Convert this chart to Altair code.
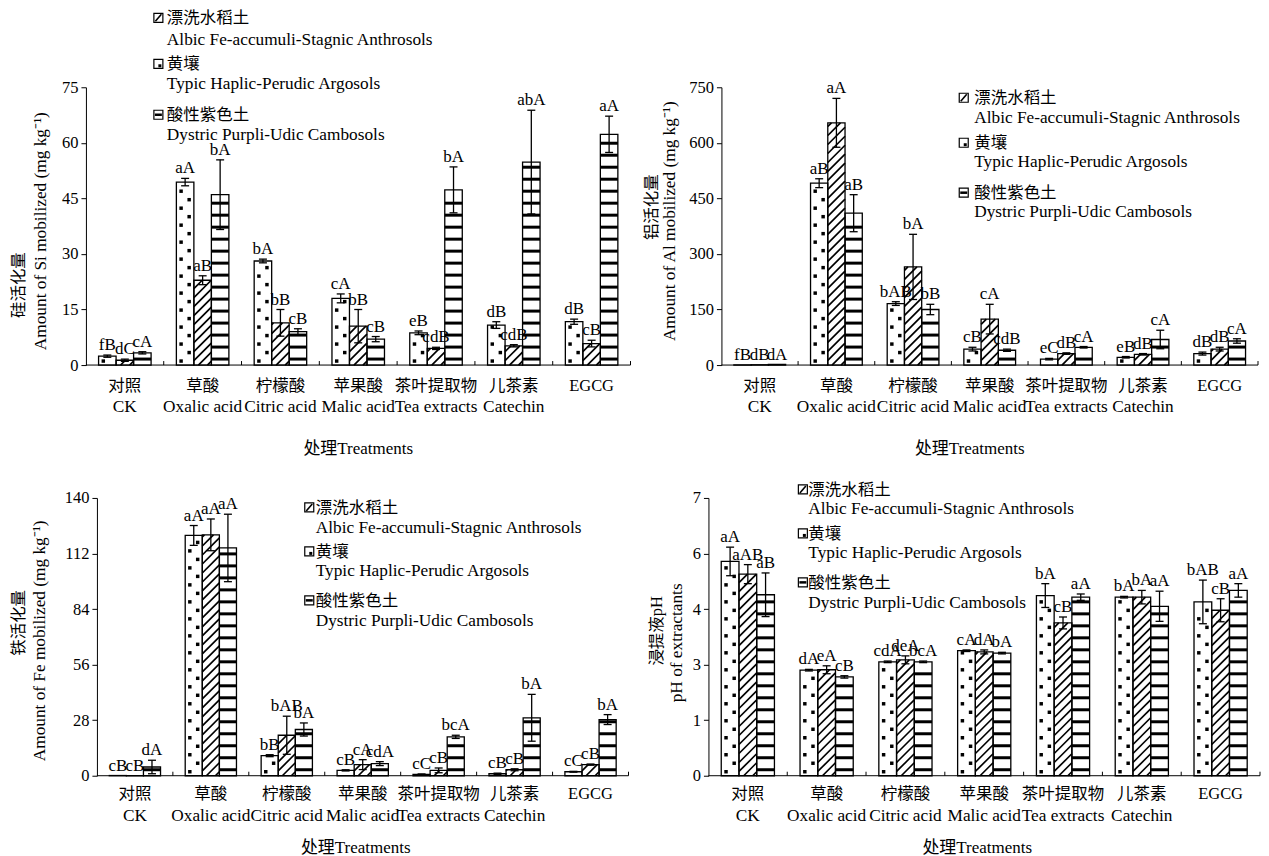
import altair as alt
import pandas as pd

FONT = "Liberation Serif, Noto Sans CJK SC"

treat_cn = ["对照", "草酸", "柠檬酸", "苹果酸", "茶叶提取物", "儿茶素", "EGCG"]
treat_en = ["CK", "Oxalic acid", "Citric acid", "Malic acid", "Tea extracts", "Catechin", ""]
soil_cn = ["漂洗水稻土", "黄壤", "酸性紫色土"]
soil_en = ["Albic Fe-accumuli-Stagnic Anthrosols", "Typic Haplic-Perudic Argosols",
           "Dystric Purpli-Udic Cambosols"]

# Si mobilized (mg/kg)
si_s1 = [2.4, 49.4, 28.1, 18.0, 8.7, 10.8, 11.7]
si_s1_err = [0.3, 1.0, 0.5, 1.2, 0.5, 0.9, 0.7]
si_s2 = [1.3, 22.9, 11.4, 10.5, 4.5, 5.2, 5.8]
si_s2_err = [0.3, 1.2, 3.6, 4.5, 0.3, 0.3, 0.9]
si_s3 = [3.3, 46.0, 9.0, 7.0, 47.3, 54.8, 62.3]
si_s3_err = [0.3, 9.4, 0.8, 0.7, 6.2, 14.0, 4.9]
si_s1_sig = ["fB", "aA", "bA", "cA", "eB", "dB", "dB"]
si_s2_sig = ["dC", "aB", "bB", "bB", "cdB", "cdB", "cB"]
si_s3_sig = ["cA", "bA", "cB", "cB", "bA", "abA", "aA"]

# Al mobilized (mg/kg)
al_s1 = [0.5, 491, 166, 43, 16, 21, 31]
al_s1_err = [0, 12, 5, 5, 2, 2, 4]
al_s2 = [0.8, 654, 265, 124, 31, 29, 43]
al_s2_err = [0, 66, 88, 40, 2, 2, 5]
al_s3 = [1.5, 410, 150, 40, 48, 69, 65]
al_s3_err = [0, 50, 14, 3, 2, 25, 6]
al_s1_sig = ["fB", "aB", "bAB", "cB", "eC", "eB", "dB"]
al_s2_sig = ["dB", "aA", "bA", "cA", "dB", "dB", "dB"]
al_s3_sig = ["dA", "aB", "bB", "cdB", "cA", "cA", "cA"]

# Fe mobilized (mg/kg)
fe_s1 = [0.1, 121.1, 10.1, 2.7, 0.7, 1.0, 2.0]
fe_s1_err = [0, 5, 0.5, 0.3, 0.2, 0.3, 0.2]
fe_s2 = [0.1, 121.4, 20.4, 5.6, 2.7, 3.0, 5.6]
fe_s2_err = [0, 8, 9.6, 2.5, 1.2, 0.5, 0.3]
fe_s3 = [4.4, 114.8, 23.3, 6.1, 19.6, 29.2, 28.3]
fe_s3_err = [3.4, 17, 3.3, 1.0, 0.8, 11.8, 2.5]
fe_s1_sig = ["cB", "aA", "bB", "cB", "cC", "cB", "cC"]
fe_s2_sig = ["cB", "aA", "bAB", "cA", "cB", "cB", "cB"]
fe_s3_sig = ["dA", "aA", "bA", "cdA", "bcA", "bA", "bA"]

# pH of extractants
ph_s1 = [5.40, 2.66, 2.87, 3.15, 4.54, 4.50, 4.38]
ph_s1_err = [0.36, 0.02, 0.02, 0.02, 0.30, 0.02, 0.55]
ph_s2 = [5.08, 2.67, 2.92, 3.12, 3.85, 4.50, 4.17]
ph_s2_err = [0.24, 0.10, 0.10, 0.05, 0.15, 0.17, 0.29]
ph_s3 = [4.56, 2.49, 2.87, 3.09, 4.50, 4.27, 4.67]
ph_s3_err = [0.55, 0.03, 0.02, 0.02, 0.08, 0.38, 0.17]
ph_s1_sig = ["aA", "dA", "cdA", "cA", "bA", "bA", "bAB"]
ph_s2_sig = ["aAB", "eA", "deA", "dA", "cB", "bA", "cB"]
ph_s3_sig = ["aB", "cB", "bcA", "bA", "aA", "aA", "aA"]

BW = 0.225
FS_EN = 17.3
FS_CN = 16.5


def panel(vals, errs, sigs, ymax, ticks, fmt, W, H, ytitle, ypos, leg, lab_dy, title_dy,
          lpad=0, title_dx=0):
    n = len(treat_cn)
    ppx = W / n
    ppy = H / ymax
    wpx = BW * ppx

    def dx(p):  # pixel offset from the y axis -> data x
        return p / ppx

    def dy(p):  # pixel offset from top edge -> data y
        return (H - p) / ppy

    bars, dots, diags, stripes, ebar, caps, sig = [], [], [], [], [], [], []
    for j in range(3):
        for i in range(n):
            v = vals[j][i]
            e = errs[j][i]
            x0 = i + 0.5 + (j - 1.5) * BW
            x1 = x0 + BW
            xc = (x0 + x1) / 2
            bars.append(dict(x0=x0, x1=x1, y0=0, y1=v))
            hp = v * ppy
            if j == 0:
                k, yp = 0, 4.0
                while yp < hp - 2:
                    xr = 0.27 if k % 2 == 0 else 0.73
                    dots.append(dict(x0=x0 + xr * BW, y0=yp / ppy))
                    k += 1
                    yp += 8.5
            elif j == 1:
                c = -wpx + 4
                while c < hp:
                    xa = max(0.0, -c)
                    xb = min(wpx, hp - c)
                    if xb - xa > 1.0:
                        diags.append(dict(x0=x0 + xa / ppx, x1=x0 + xb / ppx,
                                          y0=(xa + c) / ppy, y1=(xb + c) / ppy))
                    c += 9.0
            else:
                yp = 6.0
                while yp < hp - 2:
                    stripes.append(dict(x0=x0, x1=x1, y0=yp / ppy))
                    yp += 12.0
            if e > 0:
                cap = 4.0 / ppx
                ebar.append(dict(x0=xc, y0=max(v - e, 0), y1=v + e))
                caps.append(dict(x0=xc - cap, x1=xc + cap, y0=v + e))
                if v - e > 0:
                    caps.append(dict(x0=xc - cap, x1=xc + cap, y0=v - e))
            sig.append(dict(x0=xc, y0=v + e, t=sigs[j][i]))

    xs = alt.Scale(domain=[-lpad / ppx, n], nice=False, zero=False)
    ys = alt.Scale(domain=[0, ymax], nice=False)
    X = alt.X("x0:Q", scale=xs)
    Y = alt.Y("y0:Q", scale=ys)

    yaxis = alt.Axis(values=ticks, format=fmt, tickSize=5, tickColor="black", tickWidth=1,
                     domainColor="black", domainWidth=1, grid=False, offset=-lpad,
                     labelFont=FONT, labelFontSize=16.5, labelColor="black", labelPadding=3,
                     title=None)

    base = alt.Chart(pd.DataFrame(bars)).mark_rect(fill="white").encode(
        x=alt.X("x0:Q", scale=xs, axis=None), x2="x1",
        y=alt.Y("y0:Q", scale=ys, axis=yaxis), y2="y1")
    layers = [base]
    layers.append(alt.Chart(pd.DataFrame(dots)).mark_square(size=12, filled=True, color="black", opacity=1)
                  .encode(x=X, y=Y))
    layers.append(alt.Chart(pd.DataFrame(diags)).mark_rule(color="black", strokeWidth=1.7)
                  .encode(x=X, x2="x1", y=Y, y2="y1"))
    layers.append(alt.Chart(pd.DataFrame(stripes)).mark_rule(color="black", strokeWidth=3)
                  .encode(x=X, x2="x1", y=Y))
    layers.append(alt.Chart(pd.DataFrame(bars)).mark_rect(filled=False, stroke="black", strokeWidth=1.3)
                  .encode(x=X, x2="x1", y=Y, y2="y1"))
    layers.append(alt.Chart(pd.DataFrame(ebar)).mark_rule(color="black", strokeWidth=1.3)
                  .encode(x=X, y=Y, y2="y1"))
    layers.append(alt.Chart(pd.DataFrame(caps)).mark_rule(color="black", strokeWidth=1.3)
                  .encode(x=X, x2="x1", y=Y))
    layers.append(alt.Chart(pd.DataFrame(sig)).mark_text(font=FONT, fontSize=17, baseline="bottom",
                                                         dy=-1, color="black")
                  .encode(x=X, y=Y, text="t:N"))
    # x baseline and category boundary ticks (pointing up)
    layers.append(alt.Chart(pd.DataFrame(dict(x0=[0], x1=[n], y0=[0]))).mark_rule(color="black", strokeWidth=1)
                  .encode(x=X, x2="x1", y=Y))
    tk = pd.DataFrame(dict(x0=list(range(1, n + 1)), y0=[0] * n, y1=[4.0 / ppy] * n))
    layers.append(alt.Chart(tk).mark_rule(color="black", strokeWidth=1)
                  .encode(x=X, y=Y, y2="y1"))
    # category labels
    lab = pd.DataFrame(dict(x0=[i + 0.5 for i in range(n)], cn=treat_cn, en=treat_en))
    layers.append(alt.Chart(lab).mark_text(font=FONT, fontSize=FS_CN, baseline="middle", color="black")
                  .encode(x=X, y=alt.value(H + lab_dy[0]), text="cn:N"))
    layers.append(alt.Chart(lab).mark_text(font=FONT, fontSize=FS_EN, baseline="middle", color="black")
                  .encode(x=X, y=alt.value(H + lab_dy[1]), text="en:N"))
    layers.append(alt.Chart(pd.DataFrame(dict(x0=[n / 2 + dx(title_dx)], t=["处理Treatments"]))).mark_text(
        font=FONT, fontSize=17, baseline="middle", color="black")
        .encode(x=X, y=alt.value(H + title_dy), text="t:N"))
    # y-axis titles (two lines, rotated)
    (cx, cy), (ex, ey) = ypos
    layers.append(alt.Chart(pd.DataFrame(dict(x0=[dx(cx)], y0=[dy(cy)], t=[ytitle[0]]))).mark_text(
        font=FONT, fontSize=FS_CN, angle=270, baseline="middle", color="black")
        .encode(x=X, y=Y, text="t:N"))
    layers.append(alt.Chart(pd.DataFrame(dict(x0=[dx(ex)], y0=[dy(ey)], t=[ytitle[1]]))).mark_text(
        font=FONT, fontSize=FS_EN, angle=270, baseline="middle", color="black")
        .encode(x=X, y=Y, text="t:N"))
    # legend
    icon_x, text_x, ly = leg
    rows_cn = [dict(x0=dx(text_x), y0=dy(ly[2 * j]), t=soil_cn[j]) for j in range(3)]
    rows_en = [dict(x0=dx(text_x), y0=dy(ly[2 * j + 1]), t=soil_en[j]) for j in range(3)]
    layers.append(alt.Chart(pd.DataFrame(rows_cn)).mark_text(font=FONT, fontSize=FS_CN, align="left",
                                                             baseline="middle", color="black")
                  .encode(x=X, y=Y, text="t:N"))
    layers.append(alt.Chart(pd.DataFrame(rows_en)).mark_text(font=FONT, fontSize=FS_EN, align="left",
                                                             baseline="middle", color="black")
                  .encode(x=X, y=Y, text="t:N"))
    boxes = [dict(x0=dx(icon_x), x1=dx(icon_x + 9), y0=dy(ly[2 * j] - 5), y1=dy(ly[2 * j] + 4))
             for j in range(3)]
    layers.append(alt.Chart(pd.DataFrame(boxes)).mark_rect(fill="white", stroke="black", strokeWidth=1.2)
                  .encode(x=X, x2="x1", y=Y, y2="y1"))
    diag_icon = [dict(x0=dx(icon_x + 1.5), x1=dx(icon_x + 7.5), y0=dy(ly[0] + 3), y1=dy(ly[0] - 4))]
    dot_icon = [dict(x0=dx(icon_x + 4.5), x1=dx(icon_x + 7.5), y0=dy(ly[2]), y1=dy(ly[2] + 3))]
    stripe_icon = [dict(x0=dx(icon_x + 1), x1=dx(icon_x + 8), y0=dy(ly[4] - 0.5))]
    layers.append(alt.Chart(pd.DataFrame(diag_icon)).mark_rule(color="black", strokeWidth=1.6)
                  .encode(x=X, x2="x1", y=Y, y2="y1"))
    layers.append(alt.Chart(pd.DataFrame(dot_icon)).mark_rect(color="black")
                  .encode(x=X, x2="x1", y=Y, y2="y1"))
    layers.append(alt.Chart(pd.DataFrame(stripe_icon)).mark_rule(color="black", strokeWidth=2.5)
                  .encode(x=X, x2="x1", y=Y))
    return alt.layer(*layers).properties(width=W + lpad, height=H)


H = 278
p1 = panel([si_s1, si_s2, si_s3], [si_s1_err, si_s2_err, si_s3_err], [si_s1_sig, si_s2_sig, si_s3_sig],
           75, [0, 15, 30, 45, 60, 75], "d", 545, H,
           ["硅活化量", "Amount of Si mobilized (mg kg⁻¹)"], ((-67, 198), (-45, 144)),
           (68, 81, [-69, -47, -23, -3, 28, 48]), (21, 42), 84)
p2 = panel([al_s1, al_s2, al_s3], [al_s1_err, al_s2_err, al_s3_err], [al_s1_sig, al_s2_sig, al_s3_sig],
           750, [0, 150, 300, 450, 600, 750], "d", 537, H,
           ["铝活化量", "Amount of Al mobilized (mg kg⁻¹)"], ((-69, 120), (-51, 134)),
           (238, 253, [11, 31, 56, 75, 106, 125]), (21, 42), 84, lpad=13, title_dx=-20)
p3 = panel([fe_s1, fe_s2, fe_s3], [fe_s1_err, fe_s2_err, fe_s3_err], [fe_s1_sig, fe_s2_sig, fe_s3_sig],
           140, [0, 28, 56, 84, 112, 140], "d", 532, H,
           ["铁活化量", "Amount of Fe mobilized (mg kg⁻¹)"], ((-78, 125), (-57, 143)),
           (208, 219, [10, 30, 54, 73, 103, 123]), (18, 40), 72, lpad=11, title_dx=-7)
p4 = panel([ph_s1, ph_s2, ph_s3], [ph_s1_err, ph_s2_err, ph_s3_err], [ph_s1_sig, ph_s2_sig, ph_s3_sig],
           7, [0, 1.4, 2.8, 4.2, 5.6, 7], ".0f", 552, H,
           ["浸提液pH", "pH of extractants"], ((-51, 133), (-31, 145)),
           (90, 100, [-8, 11, 36, 55, 85, 105]), (18, 40), 72, title_dx=-7)

chart = alt.concat(p1, p2, p3, p4, columns=2, spacing={"row": 133, "column": 78},
                   bounds="flush", align="none").properties(
    padding={"left": 2, "top": 2, "right": 0, "bottom": 0},
    background="white"
).configure_view(stroke=None)

chart.save("out.html", embed_options={"renderer": "svg", "actions": False})
